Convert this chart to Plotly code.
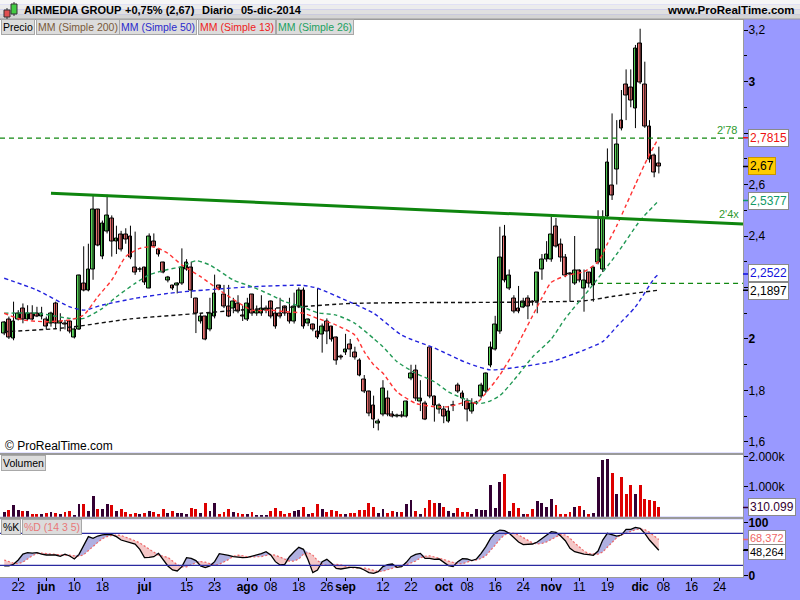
import plotly.graph_objects as go

# ---------------- sessions (trading days shown) ----------------
session_days = {
    "2014-05": [19, 20, 21, 22, 23, 27, 28, 29, 30],
    "2014-06": [2, 3, 4, 5, 6, 9, 10, 11, 12, 13, 16, 17, 18, 19, 20, 23, 24, 25, 26, 27, 30],
    "2014-07": [1, 2, 3, 7, 8, 9, 10, 11, 14, 15, 16, 17, 18, 21, 22, 23, 24, 25, 28, 29, 30, 31],
    "2014-08": [1, 4, 5, 6, 7, 8, 11, 12, 13, 14, 15, 18, 19, 20, 21, 22, 25, 26, 27, 28, 29],
    "2014-09": [2, 3, 4, 5, 8, 9, 10, 11, 12, 15, 16, 17, 18, 19, 22, 23, 24, 25, 26, 29, 30],
    "2014-10": [1, 2, 3, 6, 7, 8, 9, 10, 13, 14, 15, 16, 17, 20, 21, 22, 23, 24, 27, 28, 29, 30, 31],
    "2014-11": [3, 4, 5, 6, 7, 10, 11, 12, 13, 14, 17, 18, 19, 20, 21, 24, 25, 26, 28],
    "2014-12": [1, 2, 3, 4, 5],
}
future_days = {"2014-12": [8, 9, 10, 11, 12, 15, 16, 17, 18, 19, 22, 23, 24]}

# ---------------- OHLC ----------------
opens = [2.020, 2.076, 2.000, 2.076, 2.119, 2.076, 2.100, 2.100, 2.088, 2.076,
         2.059, 2.138, 2.059, 2.059, 2.067, 2.006, 2.037, 2.216, 2.190, 2.268,
         2.501, 2.320, 2.417, 2.469, 2.380, 2.407, 2.407, 2.397, 2.278, 2.268,
         2.278, 2.197, 2.380, 2.348, 2.298, 2.229, 2.208, 2.208, 2.216, 2.268,
         2.278, 2.158, 2.067, 2.087, 2.037, 2.087, 2.207, 2.171, 2.128, 2.119,
         2.138, 2.090, 2.076, 2.171, 2.100, 2.100, 2.112, 2.145, 2.100, 2.100,
         2.125, 2.100, 2.067, 2.125, 2.190, 2.059, 2.057, 2.031, 2.018, 2.067,
         2.048, 2.006, 1.930, 1.948, 1.979, 1.948, 1.918, 1.841, 1.795, 1.740,
         1.670, 1.707, 1.769, 1.707, 1.700, 1.701, 1.700, 1.847, 1.877, 1.759,
         1.750, 1.966, 1.776, 1.728, 1.727, 1.681, 1.740, 1.821, 1.789, 1.759,
         1.718, 1.750, 1.778, 1.795, 1.899, 1.960, 2.028, 2.400, 2.197, 2.158,
         2.120, 2.121, 2.158, 2.145, 2.147, 2.268, 2.309, 2.309, 2.436, 2.368,
         2.317, 2.255, 2.216, 2.265, 2.197, 2.259, 2.207, 2.298, 2.268, 2.475,
         2.598, 2.659, 2.850, 2.989, 2.977, 2.896, 3.148, 2.989, 2.824, 2.711,
         2.680]
highs = [2.070, 2.087, 2.145, 2.112, 2.138, 2.131, 2.131, 2.125, 2.125, 2.087,
         2.106, 2.145, 2.100, 2.074, 2.074, 2.045, 2.250, 2.360, 2.370, 2.560,
         2.505, 2.460, 2.560, 2.480, 2.440, 2.420, 2.430, 2.440, 2.417, 2.280,
         2.280, 2.410, 2.410, 2.350, 2.300, 2.245, 2.210, 2.220, 2.352, 2.310,
         2.300, 2.160, 2.100, 2.090, 2.160, 2.250, 2.210, 2.210, 2.210, 2.160,
         2.170, 2.130, 2.160, 2.175, 2.130, 2.170, 2.130, 2.150, 2.120, 2.160,
         2.130, 2.160, 2.180, 2.200, 2.200, 2.080, 2.060, 2.197, 2.060, 2.080,
         2.050, 2.010, 1.940, 2.020, 2.000, 1.970, 1.925, 1.860, 1.800, 1.780,
         1.690, 1.840, 1.800, 1.720, 1.710, 1.720, 1.760, 1.900, 1.900, 1.840,
         1.760, 1.966, 1.780, 1.750, 1.740, 1.740, 1.760, 1.830, 1.800, 1.770,
         1.770, 1.760, 1.830, 1.870, 1.990, 2.090, 2.436, 2.443, 2.270, 2.170,
         2.206, 2.160, 2.170, 2.150, 2.260, 2.330, 2.380, 2.475, 2.470, 2.390,
         2.330, 2.260, 2.400, 2.270, 2.270, 2.260, 2.280, 2.500, 2.500, 2.740,
         2.876, 2.850, 2.967, 3.047, 3.047, 3.142, 3.205, 3.077, 2.850, 2.720,
         2.747]
lows = [2.015, 2.000, 1.995, 2.072, 2.061, 2.074, 2.072, 2.085, 2.076, 2.037,
        2.048, 2.042, 2.030, 2.037, 2.022, 2.002, 2.035, 2.185, 2.185, 2.230,
        2.360, 2.310, 2.410, 2.320, 2.330, 2.340, 2.370, 2.310, 2.249, 2.260,
        2.210, 2.197, 2.355, 2.320, 2.255, 2.220, 2.190, 2.177, 2.210, 2.265,
        2.159, 2.023, 2.060, 1.995, 2.030, 2.080, 2.190, 2.120, 2.085, 2.100,
        2.100, 2.070, 2.070, 2.090, 2.090, 2.090, 2.100, 2.080, 2.040, 2.080,
        2.090, 2.060, 2.060, 2.120, 2.040, 2.050, 2.030, 2.000, 1.947, 1.980,
        1.990, 1.900, 1.920, 1.938, 1.930, 1.920, 1.855, 1.790, 1.700, 1.654,
        1.645, 1.700, 1.700, 1.695, 1.695, 1.695, 1.695, 1.840, 1.760, 1.720,
        1.685, 1.770, 1.679, 1.710, 1.673, 1.675, 1.720, 1.790, 1.740, 1.680,
        1.710, 1.745, 1.770, 1.790, 1.890, 1.955, 2.020, 2.220, 2.190, 2.100,
        2.100, 2.120, 2.077, 2.130, 2.100, 2.230, 2.300, 2.300, 2.355, 2.300,
        2.240, 2.145, 2.210, 2.220, 2.106, 2.200, 2.145, 2.290, 2.260, 2.470,
        2.540, 2.600, 2.810, 2.850, 2.900, 2.819, 2.990, 2.820, 2.685, 2.628,
        2.643]
closes = [2.065, 2.006, 2.067, 2.100, 2.076, 2.100, 2.076, 2.088, 2.100, 2.048,
          2.100, 2.059, 2.067, 2.058, 2.029, 2.037, 2.245, 2.190, 2.268, 2.501,
          2.365, 2.449, 2.478, 2.378, 2.390, 2.348, 2.387, 2.317, 2.259, 2.270,
          2.218, 2.397, 2.361, 2.330, 2.259, 2.239, 2.197, 2.216, 2.278, 2.298,
          2.187, 2.100, 2.087, 1.999, 2.100, 2.177, 2.197, 2.125, 2.087, 2.145,
          2.106, 2.088, 2.138, 2.100, 2.112, 2.119, 2.119, 2.087, 2.048, 2.087,
          2.100, 2.067, 2.128, 2.190, 2.048, 2.076, 2.037, 2.006, 2.048, 2.031,
          1.999, 1.918, 1.928, 1.960, 1.960, 1.929, 1.860, 1.795, 1.709, 1.688,
          1.681, 1.808, 1.707, 1.700, 1.701, 1.700, 1.759, 1.867, 1.769, 1.769,
          1.688, 1.776, 1.740, 1.740, 1.700, 1.720, 1.742, 1.795, 1.767, 1.727,
          1.750, 1.752, 1.821, 1.867, 1.967, 2.057, 2.317, 2.229, 2.246, 2.108,
          2.108, 2.147, 2.128, 2.143, 2.259, 2.309, 2.329, 2.407, 2.361, 2.317,
          2.245, 2.252, 2.265, 2.229, 2.229, 2.216, 2.278, 2.348, 2.471, 2.686,
          2.556, 2.756, 2.818, 2.945, 2.925, 3.129, 2.997, 2.824, 2.698, 2.647,
          2.670]

# volume in thousands
volumes_k = [167, 222, 390, 222, 200, 190, 100, 100, 100, 120,
             145, 120, 100, 167, 190, 67, 423, 410, 190, 690,
             255, 255, 423, 390, 190, 245, 167, 90, 110, 100,
             120, 190, 145, 90, 255, 110, 190, 120, 120, 90,
             280, 255, 135, 455, 190, 445, 100, 155, 245, 155,
             135, 90, 100, 145, 67, 67, 67, 200, 280, 200,
             90, 120, 190, 222, 310, 90, 120, 433, 255, 167,
             222, 200, 100, 100, 120, 120, 233, 233, 467, 310,
             120, 255, 120, 200, 167, 167, 423, 556, 200, 100,
             280, 556, 467, 467, 333, 189, 133, 278, 144, 167,
             100, 256, 222, 222, 1056, 278, 1156, 1422, 189, 467,
             278, 78, 89, 256, 522, 467, 333, 589, 389, 78,
             78, 144, 333, 344, 222, 78, 133, 1333, 1889, 1911,
             1444, 756, 1333, 756, 1056, 756, 1056, 589, 556, 522,
             310.099]

stoch_k = [18.8, 18.8, 22, 30, 41, 43.7, 43, 43.7, 41, 39.4,
           39.4, 39.4, 37, 41, 37.5, 32, 40.6, 56, 73.8, 70.6,
           75, 77, 78.2, 77.5, 73.8, 67.5, 65, 62.5, 60, 50,
           34.4, 35, 36.2, 42.5, 31.2, 18.8, 11.3, 9.4, 17.5, 34.4,
           33.1, 28.8, 18.8, 15.6, 18.8, 26.9, 41.9, 40.6, 38.8, 36.2,
           35, 34.4, 35, 37, 38.8, 41.9, 45.6, 39.4, 26.9, 20.6,
           21.9, 36.2, 45.6, 53.8, 50, 30, 6.3, 11.3, 26.9, 31.2,
           23.8, 14.4, 13.1, 15, 16.3, 16.3, 15, 11.3, 6.3, 5,
           8.1, 17.5, 21.3, 22.5, 16.3, 17.5, 25.6, 36.2, 40.6, 42.5,
           33, 33, 31.2, 31.9, 25, 19.4, 17.5, 26.9, 32.5, 31.9,
           28.8, 31.9, 42.5, 55, 70.6, 81.2, 86.2, 85, 80, 71.2,
           63.8, 58.8, 58.8, 60, 63.8, 70, 76.9, 83.1, 81.9, 75,
           66.2, 51.9, 45.6, 43.1, 41.2, 40, 38.8, 46.9, 67.5, 80,
           78.2, 75, 76.9, 87.5, 87.5, 91.2, 89.4, 80, 67.5, 58.8,
           48.264]
stoch_d = [30, 27, 24, 23, 26, 32, 38, 42, 43, 42,
           41, 40, 39.5, 39, 39, 37.5, 37, 40, 48, 55,
           63, 70, 74, 76, 77, 76, 73, 70, 66, 62,
           56, 50, 44, 39, 37, 35, 28, 21, 17, 17,
           21, 25, 27, 26, 23, 20, 22, 26, 31, 37,
           39, 38, 36, 35.5, 35.5, 36.5, 38.5, 40.5, 39, 35,
           31, 28, 28, 32, 41, 44, 39, 29, 22, 20,
           20, 22, 21, 18, 16, 15, 15.5, 15, 13, 10.5,
           8.5, 9, 12, 15, 18, 20, 21, 24, 28, 34,
           37, 38, 36, 34, 31, 28, 25, 23, 23, 26,
           29, 30, 33, 38, 47, 58, 69, 77, 81, 80,
           77, 72, 66, 62, 60, 61, 64, 69, 74, 78,
           77, 71, 62, 54, 47, 42, 41, 41, 45, 54,
           64, 72, 77, 80, 83, 87, 88, 87, 82, 76,
           68.372]

# moving averages (date, value)
ma200_dates = ["2014-05-19", "2014-06-04", "2014-06-11", "2014-06-26", "2014-07-18", "2014-07-30",
               "2014-08-18", "2014-09-03", "2014-09-18", "2014-10-09", "2014-10-23", "2014-11-04",
               "2014-11-12", "2014-11-20", "2014-11-28", "2014-12-05"]
ma200_vals = [2.028, 2.040, 2.050, 2.078, 2.100, 2.112, 2.125, 2.138, 2.141, 2.142, 2.143, 2.145,
              2.148, 2.165, 2.178, 2.1897]
ma50_dates = ["2014-05-19", "2014-05-29", "2014-06-09", "2014-06-12", "2014-06-18", "2014-06-27",
              "2014-07-09", "2014-07-16", "2014-08-04", "2014-08-19", "2014-08-22", "2014-09-02",
              "2014-09-10", "2014-09-18", "2014-09-29", "2014-10-08", "2014-10-15", "2014-10-23",
              "2014-11-03", "2014-11-12", "2014-11-18", "2014-11-21", "2014-11-28", "2014-12-04",
              "2014-12-05"]
ma50_vals = [2.236, 2.190, 2.125, 2.112, 2.132, 2.158, 2.177, 2.186, 2.203, 2.208, 2.197, 2.151,
             2.100, 2.015, 1.965, 1.907, 1.880, 1.891, 1.912, 1.957, 1.990, 2.048, 2.125, 2.235,
             2.2522]
ma13_dates = ["2014-05-19", "2014-05-23", "2014-06-02", "2014-06-09", "2014-06-12", "2014-06-17",
              "2014-06-20", "2014-06-25", "2014-06-30", "2014-07-03", "2014-07-09", "2014-07-14",
              "2014-07-18", "2014-07-24", "2014-08-04", "2014-08-08", "2014-08-13", "2014-08-19",
              "2014-08-22", "2014-08-28", "2014-09-04", "2014-09-08", "2014-09-10", "2014-09-12",
              "2014-09-17", "2014-09-23", "2014-09-29", "2014-10-02", "2014-10-08", "2014-10-10",
              "2014-10-14", "2014-10-17", "2014-10-22", "2014-10-24", "2014-10-28", "2014-10-30",
              "2014-11-03", "2014-11-06", "2014-11-12", "2014-11-17", "2014-11-19", "2014-11-21",
              "2014-11-25", "2014-11-28", "2014-12-02", "2014-12-04", "2014-12-05"]
ma13_vals = [2.100, 2.074, 2.067, 2.074, 2.093, 2.164, 2.229, 2.320, 2.352, 2.358, 2.333, 2.287,
             2.242, 2.190, 2.112, 2.112, 2.106, 2.100, 2.080, 2.054, 2.015, 1.951, 1.900, 1.867,
             1.795, 1.750, 1.737, 1.737, 1.756, 1.751, 1.790, 1.860, 1.950, 2.020, 2.090, 2.160,
             2.220, 2.245, 2.262, 2.300, 2.370, 2.440, 2.520, 2.600, 2.680, 2.750, 2.7815]
ma26_dates = ["2014-05-19", "2014-05-29", "2014-06-09", "2014-06-12", "2014-06-18", "2014-06-23",
              "2014-06-27", "2014-07-02", "2014-07-09", "2014-07-14", "2014-07-17", "2014-07-22",
              "2014-07-29", "2014-08-04", "2014-08-08", "2014-08-13", "2014-08-19", "2014-08-22",
              "2014-08-28", "2014-09-04", "2014-09-10", "2014-09-12", "2014-09-17", "2014-09-23",
              "2014-09-29", "2014-10-02", "2014-10-08", "2014-10-13", "2014-10-15", "2014-10-17",
              "2014-10-22", "2014-10-28", "2014-11-03", "2014-11-06", "2014-11-13", "2014-11-21",
              "2014-12-01", "2014-12-05"]
ma26_vals = [2.100, 2.100, 2.080, 2.080, 2.119, 2.164, 2.216, 2.249, 2.270, 2.281, 2.304, 2.287,
             2.229, 2.203, 2.171, 2.145, 2.123, 2.102, 2.093, 2.061, 2.002, 1.970, 1.912, 1.867,
             1.834, 1.795, 1.763, 1.750, 1.760, 1.780, 1.840, 1.930, 2.000, 2.080, 2.190, 2.330,
             2.460, 2.5377]

# horizontal levels and trend line
level_values = [2.78, 2.216]
level_from = ["2014-05-19", "2014-11-17"]
trend_dates = ["2014-06-03", "2014-12-05"]
trend_vals = [2.566, 2.461]

tick_dates = ["2014-05-22", "2014-06-02", "2014-06-10", "2014-06-18", "2014-07-01", "2014-07-15",
              "2014-07-23", "2014-08-01", "2014-08-08", "2014-08-18", "2014-08-26", "2014-09-02",
              "2014-09-12", "2014-09-22", "2014-10-01", "2014-10-08", "2014-10-16", "2014-10-24",
              "2014-11-03", "2014-11-11", "2014-11-19", "2014-12-01", "2014-12-08", "2014-12-16",
              "2014-12-24"]
tick_labels = ["22", "<b>jun</b>", "10", "18", "<b>jul</b>", "15", "23", "<b>ago</b>", "08", "18",
               "26", "<b>sep</b>", "12", "22", "<b>oct</b>", "08", "16", "24", "<b>nov</b>", "11",
               "19", "<b>dic</b>", "08", "16", "24"]

price_ticks = [1.6, 1.8, 2.0, 2.2, 2.4, 2.6, 2.8, 3.0, 3.2]
price_tick_text = ["1,6", "1,8", "<b>2</b>", "", "2,4", "2,6", "", "<b>3</b>", "3,2"]

# ---------------- build ----------------
dates = [f"{m}-{d:02d}" for m, ds in session_days.items() for d in ds]
future = [f"{m}-{d:02d}" for m, ds in future_days.items() for d in ds]
all_days = dates + future
pos = {d: i for i, d in enumerate(all_days)}
n = len(dates)
for arr in (opens, highs, lows, closes, volumes_k, stoch_k, stoch_d):
    if len(arr) != n:
        raise ValueError(f"length mismatch {len(arr)} vs {n}")
xs = [pos[d] for d in dates]

X_MIN, X_MAX = -0.9, 158.0
FONT = "Liberation Sans, Arial, sans-serif"
GREEN_UP = "#5bd65b"
RED_DN = "#ea7272"
BAND = "#9999ff"

up = [c >= o for o, c in zip(opens, closes)]

fig = go.Figure()

# wicks
wx, wy = [], []
for x, h, l in zip(xs, highs, lows):
    wx += [x, x, None]
    wy += [l, h, None]
fig.add_trace(go.Scatter(x=wx, y=wy, mode="lines", line=dict(color="black", width=1),
                         xaxis="x", yaxis="y", hoverinfo="skip"))
# bodies
fig.add_trace(go.Bar(x=xs, y=[max(abs(c - o), 0.003) for o, c in zip(opens, closes)],
                     base=[min(o, c) for o, c in zip(opens, closes)], width=0.8,
                     marker=dict(color=[GREEN_UP if u else RED_DN for u in up],
                                 line=dict(color="black", width=1)),
                     xaxis="x", yaxis="y", hoverinfo="skip"))

def ma_trace(dts, vals, color):
    return go.Scatter(x=[pos[d] for d in dts], y=vals, mode="lines",
                      line=dict(color=color, width=1.4, dash="4px,3px", shape="spline", smoothing=0.6),
                      xaxis="x", yaxis="y", hoverinfo="skip")

fig.add_trace(ma_trace(ma200_dates, ma200_vals, "#111111"))
fig.add_trace(ma_trace(ma50_dates, ma50_vals, "#2222dd"))
fig.add_trace(ma_trace(ma26_dates, ma26_vals, "#229955"))
fig.add_trace(ma_trace(ma13_dates, ma13_vals, "#ff3333"))

# volume
fig.add_trace(go.Bar(x=xs, y=[v * 1000 for v in volumes_k], width=0.62,
                     marker=dict(color=["#330033" if u else "#dd0000" for u in up], line=dict(width=0)),
                     xaxis="x2", yaxis="y2", hoverinfo="skip"))

# stochastic
upper = [max(k, d) for k, d in zip(stoch_k, stoch_d)]
lower = [min(k, d) for k, d in zip(stoch_k, stoch_d)]
fig.add_trace(go.Scatter(x=xs, y=stoch_d, mode="lines", line=dict(width=0), xaxis="x3", yaxis="y3", hoverinfo="skip"))
fig.add_trace(go.Scatter(x=xs, y=upper, mode="lines", line=dict(width=0), fill="tonexty",
                         fillcolor="rgba(150,150,215,0.75)", xaxis="x3", yaxis="y3", hoverinfo="skip"))
fig.add_trace(go.Scatter(x=xs, y=stoch_d, mode="lines", line=dict(width=0), xaxis="x3", yaxis="y3", hoverinfo="skip"))
fig.add_trace(go.Scatter(x=xs, y=lower, mode="lines", line=dict(width=0), fill="tonexty",
                         fillcolor="rgba(240,180,180,0.75)", xaxis="x3", yaxis="y3", hoverinfo="skip"))
fig.add_trace(go.Scatter(x=xs, y=stoch_d, mode="lines", line=dict(color="#ee6666", width=1.2, dash="2px,2px"),
                         xaxis="x3", yaxis="y3", hoverinfo="skip"))
fig.add_trace(go.Scatter(x=xs, y=stoch_k, mode="lines", line=dict(color="black", width=1.3),
                         xaxis="x3", yaxis="y3", hoverinfo="skip"))

# ---------------- layout ----------------
W, H = 800, 600
def py(p):
    return 1 - p / H
def px(p):
    return p / W

XR = 743 / W
axis_common = dict(showgrid=False, zeroline=False, showline=True, linecolor="#9a9a9a", linewidth=1,
                   mirror=True, automargin=False)

shapes = []
# header gradient
grad = ["#f6f6f6", "#ececec", "#e0e0e0", "#d4d4d4"]
for k, c in enumerate(grad):
    shapes.append(dict(type="rect", xref="paper", yref="paper", x0=0, x1=1,
                       y0=py(19 * (k + 1) / 4), y1=py(19 * k / 4), fillcolor=c, line=dict(width=0), layer="above"))
shapes.append(dict(type="line", xref="paper", yref="paper", x0=0, x1=1, y0=py(19), y1=py(19),
                   line=dict(color="#9a9a9a", width=1)))
# icon
shapes += [
    dict(type="line", xref="paper", yref="paper", x0=px(7), x1=px(7), y0=py(19), y1=py(8), line=dict(color="#333", width=1)),
    dict(type="rect", xref="paper", yref="paper", x0=px(4), x1=px(10), y0=py(17), y1=py(10), fillcolor="#e05050", line=dict(color="#333", width=1)),
    dict(type="line", xref="paper", yref="paper", x0=px(14), x1=px(14), y0=py(16), y1=py(2), line=dict(color="#333", width=1)),
    dict(type="rect", xref="paper", yref="paper", x0=px(11), x1=px(17), y0=py(14), y1=py(4), fillcolor="#44cc44", line=dict(color="#333", width=1)),
]
# levels
for v, d in zip(level_values, level_from):
    shapes.append(dict(type="line", xref="x", yref="y", x0=pos[d] if d != dates[0] else X_MIN, x1=X_MAX,
                       y0=v, y1=v, line=dict(color="#118811", width=1.2, dash="5px,4px")))
# trend line extended to the right edge
i0, i1 = pos[trend_dates[0]], pos[trend_dates[1]]
slope = (trend_vals[1] - trend_vals[0]) / (i1 - i0)
shapes.append(dict(type="line", xref="x", yref="y", x0=i0, x1=X_MAX, y0=trend_vals[0],
                   y1=trend_vals[0] + slope * (X_MAX - i0), line=dict(color="#0e850e", width=3)))
# stochastic bands
for v in (20, 80):
    shapes.append(dict(type="line", xref="x3", yref="y3", x0=X_MIN, x1=X_MAX, y0=v, y1=v,
                       line=dict(color="#2a2aa0", width=1.3)))

annotations = []
def header_text(x, t):
    annotations.append(dict(text=f"<b>{t}</b>", x=px(x), y=py(10), xref="paper", yref="paper",
                            xanchor="left", yanchor="middle", showarrow=False,
                            font=dict(family=FONT, size=11, color="black")))
header_text(22, "AIRMEDIA GROUP")
header_text(123, "+0,75% (2,67)")
header_text(200, "Diario")
header_text(239, "05-dic-2014")
annotations.append(dict(text="<b>www.ProRealTime.com</b>", x=px(797), y=py(10), xref="paper", yref="paper",
                        xanchor="right", yanchor="middle", showarrow=False,
                        font=dict(family=FONT, size=11.5, color="black")))

def tag(text, x, ypx, color):
    annotations.append(dict(text=text, x=px(x), y=py(ypx), xref="paper", yref="paper",
                            xanchor="left", yanchor="middle", showarrow=False,
                            bgcolor="#dcdcdc", bordercolor="#a8a8a8", borderwidth=1, borderpad=1,
                            font=dict(family=FONT, size=10.5, color=color)))
tag("Precio", 1, 27, "black")
tag("MM (Simple 200)", 36, 27, "#7a5a3a")
tag("MM (Simple 50)", 119, 27, "#2a2acc")
tag("MM (Simple 13)", 198, 27, "#ee2222")
tag("MM (Simple 26)", 276, 27, "#22a060")
tag("Volumen", 1, 462.5, "black")
tag("%K", 1, 526.5, "black")
tag("%D (14 3 5)", 22, 526.5, "#e87878")

annotations.append(dict(text="© ProRealTime.com", x=px(3), y=py(446), xref="paper", yref="paper",
                        xanchor="left", yanchor="middle", showarrow=False,
                        font=dict(family=FONT, size=12, color="black")))
annotations.append(dict(text="2'78", x=px(739), y=level_values[0], xref="paper", yref="y",
                        xanchor="right", yanchor="bottom", showarrow=False,
                        font=dict(family=FONT, size=11, color="#2e9a2e")))
annotations.append(dict(text="2'4x", x=px(741), y=trend_vals[0] + slope * (X_MAX - i0), xref="paper", yref="y",
                        xanchor="right", yanchor="bottom", yshift=2, showarrow=False,
                        font=dict(family=FONT, size=11, color="#2e9a2e")))

def value_box(text, yval, yref, color, bg="white", border="#8a8a8a", size=12, yshift=0):
    annotations.append(dict(text=text, x=px(748), y=yval, xref="paper", yref=yref,
                            xanchor="left", yanchor="middle", showarrow=False, yshift=yshift,
                            bgcolor=bg, bordercolor=border, borderwidth=1, borderpad=1,
                            font=dict(family=FONT, size=size, color=color)))
    shapes.append(dict(type="line", xref="paper", yref=yref, x0=XR, x1=px(748), y0=yval, y1=yval,
                       line=dict(color=color, width=1.5)))

value_box("2,7815", ma13_vals[-1], "y", "#ee1111")
value_box("2,67", closes[-1], "y", "black", bg="#ffcc00", border="#c89600")
value_box("2,5377", ma26_vals[-1], "y", "#119966")
value_box("2,2522", ma50_vals[-1], "y", "#1111dd", yshift=1)
value_box("2,1897", ma200_vals[-1], "y", "black", yshift=-1)
value_box("310.099", volumes_k[-1] * 1000, "y2", "#330033")
value_box("68,372", stoch_d[-1], "y3", "#ee6666", size=11, yshift=2)
value_box("48,264", stoch_k[-1], "y3", "black", size=11, yshift=-2)

tickfont = dict(family=FONT, size=12, color="black")
fig.update_layout(
    width=W, height=H, margin=dict(l=0, r=0, t=0, b=0, pad=0),
    paper_bgcolor=BAND, plot_bgcolor="white", showlegend=False, hovermode=False,
    bargap=0, font=dict(family=FONT),
    xaxis=dict(domain=[0, XR], range=[X_MIN, X_MAX], anchor="y", showticklabels=False, ticks="", **axis_common),
    xaxis2=dict(domain=[0, XR], range=[X_MIN, X_MAX], anchor="y2", matches="x", showticklabels=False, ticks="", **axis_common),
    xaxis3=dict(domain=[0, XR], range=[X_MIN, X_MAX], anchor="y3", matches="x", tickmode="array",
                tickvals=[pos[d] for d in tick_dates], ticktext=tick_labels, ticks="outside", ticklen=3,
                tickangle=0, ticklabelstandoff=-4, tickcolor="black", tickfont=tickfont, **axis_common),
    yaxis=dict(domain=[py(452.7), py(19.5)], range=[1.5584, 3.2408], anchor="x", side="right",
               tickmode="array", tickvals=price_ticks, ticktext=price_tick_text, ticks="outside",
               ticklen=4, ticklabelstandoff=-2, tickcolor="black", tickfont=tickfont,
               minor=dict(tickmode="linear", tick0=0, dtick=0.1, ticks="outside", ticklen=3, tickcolor="black"),
               **axis_common),
    yaxis2=dict(domain=[py(516.7), py(455)], range=[0, 2056000], anchor="x2", side="right",
                tickmode="array", tickvals=[1000000, 2000000], ticktext=["1.000k", "2.000k"],
                ticks="outside", ticklen=4, ticklabelstandoff=-2, tickcolor="black", tickfont=tickfont,
                **axis_common),
    yaxis3=dict(domain=[py(577), py(519.3)], range=[-1.9, 106.4], anchor="x3", side="right",
                tickmode="array", tickvals=[0, 50, 100], ticktext=["<b>0</b>", "", "<b>100</b>"],
                ticks="outside", ticklen=4, ticklabelstandoff=-2, tickcolor="black", tickfont=tickfont,
                **axis_common),
    shapes=shapes, annotations=annotations,
)

fig.write_html("out.html", config={"displayModeBar": False},
               post_script="document.body.style.margin='0';document.body.style.overflow='hidden';")
